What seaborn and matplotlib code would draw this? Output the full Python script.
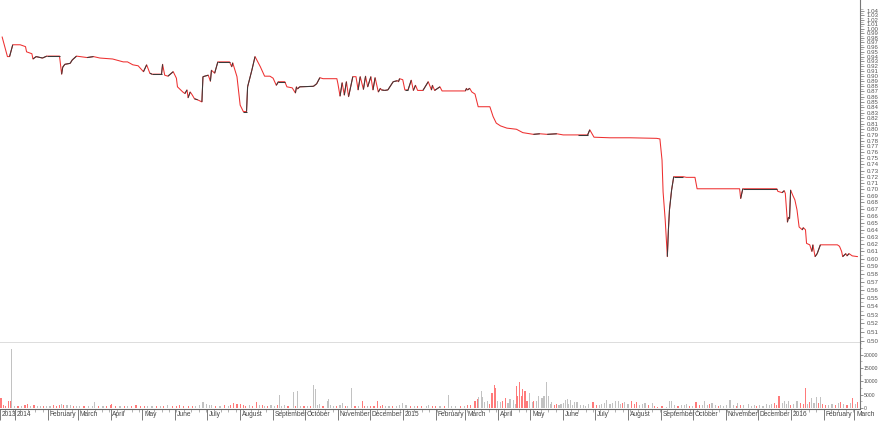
import numpy as np
import pandas as pd
import matplotlib
matplotlib.use("Agg")
import matplotlib.pyplot as plt
import matplotlib.dates as mdates
import matplotlib.ticker as mticker
from matplotlib.transforms import ScaledTranslation
from matplotlib import font_manager
import seaborn as sns

sns.set_theme(style="white")
_names = {f.name for f in font_manager.fontManager.ttflist}
TICKFONT = "Liberation Sans Narrow" if "Liberation Sans Narrow" in _names else "Liberation Sans"
plt.rcParams["font.family"] = [TICKFONT, "DejaVu Sans"]

START = pd.Timestamp("2013-12-18")
END_DAYS = 809.3

# ---- price (close) : day offset from START, value, 1 = up-day (dark) ----
price_day = [2, 7, 9, 12, 19, 24, 25, 30, 31, 34,
             40, 44, 56, 58, 59, 61, 66, 68, 72, 82,
             88, 94, 106, 116, 120, 125, 130, 135, 138, 141,
             143, 152, 153, 155, 158, 163, 166, 167, 172, 174,
             176, 177, 179, 181, 183, 186, 190, 191, 196, 198,
             199, 202, 205, 216, 218, 219, 223, 226, 229, 232,
             233, 237, 240, 245, 249, 254, 257, 260, 262, 268,
             270, 275, 278, 279, 280, 282, 295, 298, 301, 304,
             317, 318, 320, 322, 324, 326, 328, 330, 332, 335,
             337, 339, 342, 344, 346, 349, 351, 353, 356, 358,
             359, 362, 365, 370, 374, 375, 376, 379, 381, 384,
             387, 389, 391, 393, 398, 403, 406, 407, 409, 414,
             416, 438, 439, 440, 442, 444, 447, 450, 461, 464,
             467, 471, 477, 486, 492, 502, 508, 515, 524, 530,
             544, 553, 555, 559, 574, 593, 618, 621, 623, 624,
             626, 628, 629, 630, 632, 634, 643, 646, 654, 656,
             696, 697, 699, 731, 732, 736, 738, 739, 741, 742,
             743, 744, 746, 748, 750, 752, 755, 756, 758, 759,
             762, 764, 765, 767, 769, 772, 788, 790, 792, 793,
             796, 797, 799, 802, 807]
price_val = [.982, .940, .940, .965, .965, .961, .950, .946, .935, .940,
             .937, .941, .941, .904, .918, .924, .926, .933, .941, .938,
             .940, .937, .935, .929, .929, .923, .921, .909, .923, .906,
             .904, .904, .924, .902, .900, .909, .896, .879, .869, .866,
             .873, .858, .869, .863, .856, .854, .850, .899, .902, .890,
             .912, .906, .929, .929, .919, .927, .899, .844, .832, .832,
             .879, .912, .940, .919, .900, .900, .896, .882, .889, .889,
             .879, .877, .867, .879, .875, .879, .880, .885, .897, .895,
             .895, .885, .861, .887, .863, .889, .860, .879, .899, .899,
             .873, .899, .874, .900, .879, .899, .873, .897, .869, .876,
             .873, .872, .873, .889, .891, .889, .895, .893, .873, .873,
             .892, .872, .882, .872, .872, .889, .873, .882, .872, .879,
             .871, .871, .876, .873, .876, .869, .865, .841, .841, .823,
             .811, .806, .802, .800, .794, .791, .792, .791, .792, .790,
             .790, .790, .799, .786, .785, .785, .784, .783, .747, .696,
             .654, .603, .640, .669, .699, .720, .720, .719, .719, .701,
             .701, .686, .701, .701, .697, .695, .698, .694, .651, .658,
             .656, .699, .691, .684, .669, .644, .640, .643, .640, .621,
             .619, .610, .619, .603, .607, .619, .619, .617, .610, .603,
             .607, .604, .607, .604, .603]
price_up = [0, 0, 0, 1, 0, 0, 0, 0, 0, 1,
            1, 1, 1, 0, 1, 1, 1, 1, 1, 0,
            1, 0, 0, 0, 0, 0, 0, 0, 1, 0,
            1, 1, 1, 0, 0, 1, 0, 0, 0, 0,
            1, 0, 1, 0, 0, 1, 0, 1, 1, 0,
            1, 0, 1, 1, 0, 1, 0, 0, 0, 1,
            1, 1, 1, 0, 0, 0, 0, 0, 1, 1,
            0, 0, 0, 1, 0, 1, 1, 1, 1, 0,
            0, 0, 0, 1, 0, 1, 0, 1, 1, 0,
            0, 1, 0, 1, 0, 1, 0, 1, 0, 1,
            0, 1, 1, 1, 1, 0, 1, 0, 0, 1,
            1, 0, 1, 0, 0, 1, 0, 1, 0, 1,
            0, 0, 1, 0, 1, 0, 0, 0, 0, 0,
            0, 0, 0, 0, 0, 0, 1, 0, 1, 0,
            0, 1, 1, 0, 0, 0, 0, 0, 0, 0,
            0, 0, 1, 1, 1, 1, 1, 0, 0, 0,
            0, 0, 1, 1, 0, 0, 1, 0, 0, 1,
            0, 1, 0, 0, 0, 0, 0, 1, 0, 0,
            0, 0, 1, 0, 1, 1, 0, 0, 0, 0,
            1, 0, 1, 0, 0]

# ---- volume : day offset, value, 1 = up-day (grey) ----
vol_day = [1, 3, 5, 8, 10, 11, 14, 17, 20, 23,
           24, 26, 29, 32, 35, 38, 41, 44, 47, 50,
           53, 56, 58, 60, 63, 66, 69, 72, 75, 79,
           83, 87, 89, 93, 97, 100, 104, 105, 109, 113,
           117, 120, 124, 128, 132, 136, 139, 143, 147, 151,
           154, 158, 162, 166, 169, 173, 177, 181, 184, 188,
           191, 194, 197, 199, 203, 207, 211, 215, 217, 220,
           223, 226, 229, 231, 235, 238, 241, 244, 247, 249,
           252, 255, 258, 261, 263, 265, 268, 271,
           276, 278, 280, 283, 286, 289, 292, 295, 297, 299,
           301, 304, 308, 309, 311, 314, 317, 320, 322, 325,
           327, 331, 334, 337, 341, 343, 346, 349, 352, 355,
           358, 360, 363, 366, 369, 373, 376, 379, 382, 386,
           390, 393, 397, 401, 403, 407, 410, 414, 418, 422,
           425, 429, 433, 437, 440, 443, 447, 449, 450, 453,
           454, 456, 459, 461, 463, 465, 466, 468, 471, 473,
           476, 478, 480, 483, 485, 486, 487, 489, 491, 492,
           494, 496, 498, 501, 502, 505, 507, 510, 512, 514,
           516, 518, 519, 522, 524, 526, 528, 530, 532, 534,
           535, 537, 539, 541, 543,
           546, 549, 551, 554, 558, 561, 564, 566, 569, 571,
           574, 576, 579, 582, 584, 586, 588, 591, 594, 597,
           599, 602, 605, 607, 610, 614, 616, 619, 623, 627,
           630, 632, 635, 638, 641, 644, 646, 649, 652, 655,
           658, 661, 663, 666, 668, 670, 673, 676, 678, 681,
           684, 687, 690, 693, 694, 697, 700, 704, 707, 710,
           712, 715, 718, 721, 724, 726, 729, 731, 733, 736,
           738, 740, 742, 744, 747, 750, 753, 756, 758, 760,
           762, 764, 766, 768, 770, 772, 774, 777, 780, 783,
           786, 789, 791, 794, 797, 800, 802, 805, 807]
vol_val = [3800, 1200, 900, 2600, 2800, 22000, 700, 900, 600, 1000,
           1200, 1500, 800, 1100, 700, 900, 600, 800, 700, 1000,
           900, 1200, 1400, 1300, 1100, 1000, 800, 700, 900, 600,
           800, 700, 2400, 800, 700, 900, 1000, 1500, 800, 700,
           900, 600, 800, 1000, 700, 900, 700, 800, 600, 900,
           800, 1000, 700, 900, 1100, 800, 900, 700, 800, 1200,
           2200, 1500, 1300, 1200, 900, 800, 1000, 700, 1200, 2000,
           1600, 1500, 1100, 900, 1100, 900, 2200, 1200, 1000, 900,
           800, 1000, 900, 1100, 5000, 800, 1200, 900,
           6000, 900, 6300, 700, 900, 800, 600, 8500, 7300, 1200,
           1500, 800, 2600, 3400, 1200, 900, 800, 1000, 2000, 700,
           600, 7500, 700, 600, 2600, 800, 900, 700, 800, 2600,
           900, 1000, 800, 700, 600, 700, 1000, 2000, 1200, 700,
           600, 700, 800, 700, 1200, 800, 600, 700, 800, 5000,
           700, 600, 800, 700, 1000, 1200, 2600, 3400, 4100, 6300,
           4100, 2300, 2600, 1500, 5800, 8600, 7700, 2600, 2300, 2600,
           3600, 1800, 3400, 3100, 1500, 8200, 4500, 9900, 4500, 7100,
           6300, 2600, 5800, 2300, 2600, 2600, 4500, 3600, 4500, 9900,
           4500, 1500, 2300, 1200, 1500, 1000, 1500, 1800, 3100, 3400,
           1500, 3100, 1200, 2300, 2300,
           1000, 1200, 900, 1500, 2300, 1200, 1000, 1400, 1800, 3100,
           1500, 1800, 2700, 2600, 1500, 1800, 2300, 1400, 2600, 1500,
           2300, 1200, 1600, 2000, 1300, 2000, 900, 400, 600, 500,
           2700, 2600, 1200, 900, 1000, 1300, 1500, 900, 800, 2300,
           1200, 1000, 2600, 1300, 1500, 2000, 1200, 900, 1300, 800,
           1000, 3100, 1200, 900, 2000, 1000, 1200, 1500, 900, 1000,
           800, 1200, 900, 1400, 1000, 1500, 1800, 1200, 4500, 2000,
           2600, 1500, 2600, 1200, 1400, 2600, 1800, 1500, 7700, 1600,
           2300, 3600, 2000, 4100, 1800, 4100, 1500, 1200, 1000, 1400,
           1200, 1800, 2300, 1500, 1200, 1800, 3600, 1500, 2300]
vol_up = [0, 0, 0, 0, 0, 1, 1, 0, 1, 0,
          0, 0, 1, 0, 1, 1, 0, 1, 1, 0,
          0, 0, 1, 0, 1, 1, 0, 1, 1, 0,
          1, 1, 1, 0, 1, 0, 0, 0, 0, 1,
          0, 1, 0, 0, 0, 0, 1, 1, 0, 1,
          0, 1, 0, 0, 0, 0, 0, 0, 1, 1,
          1, 1, 1, 1, 0, 1, 0, 1, 0, 0,
          0, 0, 0, 0, 1, 0, 0, 1, 0, 1,
          0, 1, 1, 0, 1, 1, 1, 0,
          1, 0, 1, 1, 0, 1, 0, 1, 1, 1,
          1, 0, 1, 1, 1, 1, 0, 1, 1, 0,
          1, 1, 0, 1, 0, 0, 1, 0, 0, 0,
          0, 0, 1, 1, 0, 1, 1, 1, 1, 0,
          1, 0, 0, 1, 1, 0, 0, 1, 0, 1,
          1, 1, 0, 1, 0, 0, 0, 0, 1, 1,
          1, 1, 1, 0, 0, 0, 0, 1, 1, 0,
          0, 1, 1, 1, 1, 0, 0, 0, 0, 0,
          0, 0, 1, 1, 0, 1, 1, 1, 1, 1,
          1, 1, 1, 0, 0, 1, 1, 1, 1, 1,
          1, 1, 1, 1, 1,
          1, 1, 1, 1, 0, 0, 1, 1, 1, 1,
          1, 1, 1, 1, 1, 0, 1, 1, 0, 0,
          0, 1, 1, 1, 0, 1, 0, 0, 0, 1,
          1, 1, 1, 0, 1, 1, 1, 0, 1, 0,
          0, 1, 1, 1, 0, 1, 1, 0, 1, 1,
          1, 1, 1, 0, 1, 0, 1, 1, 1, 1,
          0, 1, 1, 1, 1, 1, 0, 0, 0, 1,
          1, 1, 1, 0, 1, 1, 0, 0, 0, 1,
          0, 1, 1, 1, 0, 1, 0, 0, 1, 1,
          0, 1, 0, 1, 0, 1, 0, 1, 0]

y_ticks = [round(0.50 + 0.01 * i, 2) for i in range(55)]
vol_ticks = [0, 5000, 10000, 15000, 20000]

RED = "#ee3030"
DARK = "#3a3a3a"
VRED = "#ff7a7a"
VGREY = "#c2c2c2"

price = pd.DataFrame({
    "date": START + pd.to_timedelta(price_day, unit="D"),
    "close": price_val,
    "up": price_up,
})
vol = pd.DataFrame({
    "date": START + pd.to_timedelta(vol_day, unit="D"),
    "volume": vol_val,
    "up": vol_up,
})

fig = plt.figure(figsize=(8.8, 4.21), dpi=100)
ax = fig.add_axes([0.0, 78 / 421, 860 / 880, 343 / 421])
axv = fig.add_axes([0.0, 12 / 421, 860 / 880, 66 / 421], sharex=ax)

# price line
sns.lineplot(data=price, x="date", y="close", ax=ax, color=RED, lw=0.75,
             estimator=None, sort=False)
for i in range(1, len(price)):
    if price_up[i]:
        seg = price.iloc[i - 1:i + 1]
        ax.plot(seg["date"], seg["close"], color=DARK, lw=0.75,
                solid_capstyle="butt")

ax.set_yscale("log")
ax.set_ylim(0.4978, 1.0658)
ax.set_xlim(START, START + pd.Timedelta(days=END_DAYS))
ax.yaxis.set_major_locator(mticker.FixedLocator(y_ticks))
ax.yaxis.set_major_formatter(mticker.FixedFormatter([f"{v:.2f}" for v in y_ticks]))
ax.yaxis.set_minor_locator(mticker.FixedLocator([v + 0.005 for v in y_ticks]))
ax.yaxis.set_minor_formatter(mticker.NullFormatter())
ax.yaxis.tick_right()
ax.tick_params(axis="y", which="major", direction="out", length=3, width=0.5,
               color="#666666", labelsize=4.4, labelcolor="#555555", pad=1.5,
               right=True, left=False)
ax.tick_params(axis="y", which="minor", direction="out", length=1.8, width=0.4,
               color="#888888", right=True, left=False)
ax.tick_params(axis="x", which="both", bottom=False, labelbottom=False)
ax.set_xlabel("")
ax.set_ylabel("")
for s in ["left", "top"]:
    ax.spines[s].set_visible(False)
ax.spines["right"].set_color("#777777")
ax.spines["right"].set_linewidth(0.8)
ax.spines["bottom"].set_color("#555555")
ax.spines["bottom"].set_linewidth(1.0)

# volume bars
axv.bar(vol["date"], vol["volume"], width=1.1,
        color=[VGREY if u else VRED for u in vol_up], linewidth=0)
axv.set_ylim(-376, 24440)
axv.yaxis.tick_right()
axv.set_yticks(vol_ticks)
axv.set_yticklabels([str(v) for v in vol_ticks])
axv.yaxis.set_minor_locator(mticker.MultipleLocator(2500))
axv.tick_params(axis="y", which="major", direction="out", length=2.2, width=0.5,
                color="#666666", labelsize=3.7, labelcolor="#555555", pad=0.6,
                right=True, left=False)
axv.tick_params(axis="y", which="minor", direction="out", length=1.4, width=0.4,
                color="#888888", right=True, left=False)
for s in ["left", "top"]:
    axv.spines[s].set_visible(False)
axv.spines["right"].set_color("#777777")
axv.spines["right"].set_linewidth(0.8)
axv.spines["bottom"].set_color("#666666")
axv.spines["bottom"].set_linewidth(0.8)

month_starts = pd.date_range("2014-01-01", "2016-03-01", freq="MS")
tick_dates = [START] + list(month_starts)
tick_labels = ["2013"] + [str(d.year) if d.month == 1 else d.strftime("%B")
                          for d in month_starts]
axv.xaxis.set_major_locator(mticker.FixedLocator(mdates.date2num(tick_dates)))
axv.xaxis.set_major_formatter(mticker.FixedFormatter(tick_labels))
axv.xaxis.set_minor_locator(mdates.WeekdayLocator(byweekday=mdates.MO))
axv.tick_params(axis="x", which="major", direction="out", length=8, width=0.6,
                color="#666666", labelsize=4.8, labelcolor="#444444", pad=-6.2,
                bottom=True)
axv.tick_params(axis="x", which="minor", direction="out", length=2.5, width=0.4,
                color="#777777", bottom=True)
axv.set_xlabel("")
axv.set_ylabel("")
offset = ScaledTranslation(1.4 / 72, 0, fig.dpi_scale_trans)
for lbl in axv.get_xticklabels():
    lbl.set_horizontalalignment("left")
    lbl.set_transform(lbl.get_transform() + offset)

fig.savefig("out.png", dpi=100)
